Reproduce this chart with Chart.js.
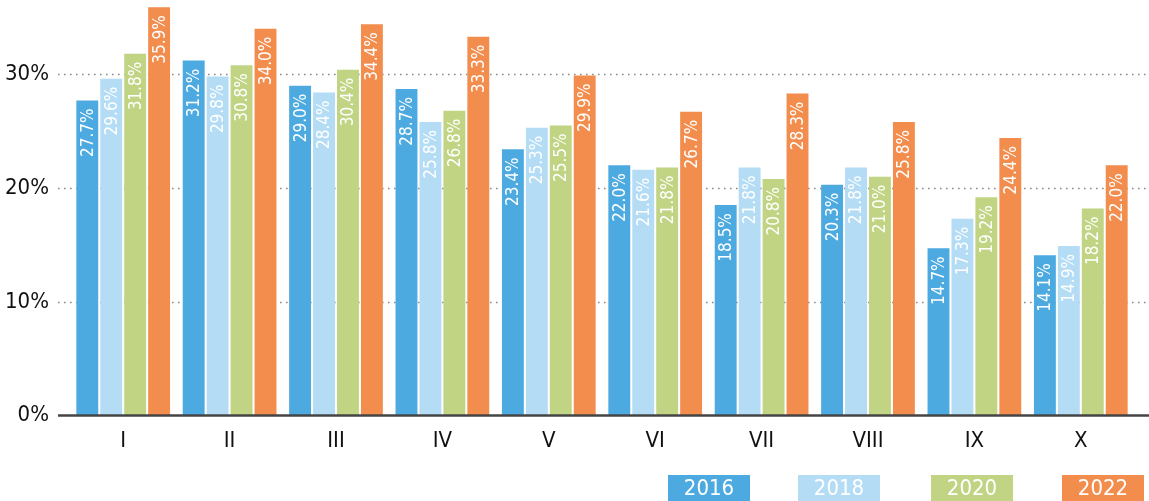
<!DOCTYPE html>
<html><head><meta charset="utf-8">
<script src="https://cdn.jsdelivr.net/npm/chart.js@4"></script>
<style>html,body{margin:0;padding:0;background:#fff}#wrap{width:1149px;height:501px;position:relative}</style>
</head><body><div id="wrap"><canvas id="c" width="1149" height="501"></canvas></div>
<script>
const categories = ["I","II","III","IV","V","VI","VII","VIII","IX","X"];
const seriesNames = ["2016","2018","2020","2022"];
const v2016 = [27.7,31.2,29.0,28.7,23.4,22.0,18.5,20.3,14.7,14.1];
const v2018 = [29.6,29.8,28.4,25.8,25.3,21.6,21.8,21.8,17.3,14.9];
const v2020 = [31.8,30.8,30.4,26.8,25.5,21.8,20.8,21.0,19.2,18.2];
const v2022 = [35.9,34.0,34.4,33.3,29.9,26.7,28.3,25.8,24.4,22.0];
const yTicks = [0,10,20,30];
const colors = ["#4DAAE0","#B5DCF5","#C0D484","#F28D4E"];
const FONT = "'DejaVu Sans Condensed','DejaVu Sans',sans-serif";

const values = [v2016,v2018,v2020,v2022];
const datasets = seriesNames.map((n,i)=>({label:n,data:values[i],backgroundColor:colors[i],
  barPercentage:0.915,categoryPercentage:0.9}));

const gridPlugin = {
  id:'grid',
  beforeDatasetsDraw(chart){
    const ctx=chart.ctx, y=chart.scales.y, a=chart.chartArea;
    ctx.save();
    yTicks.forEach(t=>{
      const py=Math.round(y.getPixelForValue(t))+0.5;
      if(t===0) return;
      ctx.strokeStyle='#8a8a8a'; ctx.lineWidth=1.6; ctx.setLineDash([1.6,4.4]);
      ctx.beginPath(); ctx.moveTo(a.left-12,py); ctx.lineTo(chart.width-2,py); ctx.stroke();
    });
    ctx.restore();
  },
  afterDatasetsDraw(chart){
    const ctx=chart.ctx, y=chart.scales.y, a=chart.chartArea;
    ctx.save();
    const py=y.getPixelForValue(0);
    ctx.strokeStyle='#444'; ctx.lineWidth=2.5; ctx.setLineDash([]);
    ctx.beginPath(); ctx.moveTo(a.left-12,py); ctx.lineTo(chart.width,py); ctx.stroke();
    chart.data.datasets.forEach((ds,di)=>{
      const meta=chart.getDatasetMeta(di);
      meta.data.forEach((bar,i)=>{
        ctx.save();
        ctx.translate(bar.x, bar.y+8);
        ctx.rotate(-Math.PI/2);
        ctx.fillStyle='#fff'; ctx.font='17px '+FONT;
        ctx.textAlign='right'; ctx.textBaseline='middle';
        ctx.fillText(ds.data[i].toFixed(1)+'%',0,1);
        ctx.restore();
      });
    });
    const lx=[668,798,931,1062];
    chart.data.datasets.forEach((ds,di)=>{
      ctx.fillStyle=ds.backgroundColor;
      ctx.fillRect(lx[di],475,82,26);
      ctx.fillStyle='#fff'; ctx.font='22px '+FONT;
      ctx.textAlign='center'; ctx.textBaseline='middle';
      ctx.fillText(ds.label,lx[di]+41,489);
    });
    ctx.restore();
  }
};

new Chart(document.getElementById('c'),{
  type:'bar',
  data:{labels:categories,datasets},
  options:{
    responsive:false,animation:false,
    layout:{padding:{top:6,right:15,bottom:43,left:0}},
    plugins:{legend:{display:false},tooltip:{enabled:false}},
    scales:{
      x:{grid:{display:false},border:{display:false},
        afterFit(s){s.paddingLeft=0;s.paddingRight=0;},
        ticks:{color:'#111',font:{family:FONT,size:22},padding:4}},
      y:{min:0,max:36,
        afterBuildTicks(s){s.ticks=yTicks.map(v=>({value:v}));},
        afterFit(s){s.width=70;s.paddingTop=0;s.paddingBottom=0;},
        grid:{display:false,drawTicks:false},border:{display:false},
        ticks:{color:'#111',font:{family:FONT,size:22},padding:21,callback:v=>v+'%'}}
    }
  },
  plugins:[gridPlugin]
});
</script></body></html>
